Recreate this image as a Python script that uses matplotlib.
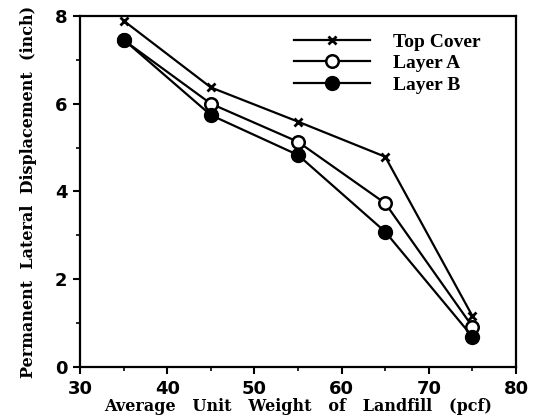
import matplotlib
matplotlib.use("Agg")
from matplotlib import pyplot as plt
from matplotlib.ticker import MultipleLocator

unit_weight = [35, 45, 55, 65, 75]
top_cover = [7.89, 6.37, 5.59, 4.79, 1.16]
layer_a = [7.45, 6.00, 5.13, 3.73, 0.92]
layer_b = [7.46, 5.74, 4.83, 3.08, 0.69]

plt.rcParams["font.family"] = ["Liberation Serif", "DejaVu Serif"]
plt.rcParams["font.weight"] = "bold"

fig = plt.figure(figsize=(5.37, 4.18), dpi=100)
ax = fig.add_axes([0.149, 0.122, 0.812, 0.84])

ax.plot(unit_weight, top_cover, color="black", lw=1.6, marker="x",
        markersize=6, markeredgewidth=2, label="Top Cover")
ax.plot(unit_weight, layer_a, color="black", lw=1.6, marker="o",
        markersize=9, markerfacecolor="white", markeredgewidth=1.8,
        label="Layer A")
ax.plot(unit_weight, layer_b, color="black", lw=1.6, marker="o",
        markersize=10, markerfacecolor="black", label="Layer B")

ax.set_xlim(30, 80)
ax.set_ylim(0, 8)
ax.xaxis.set_major_locator(MultipleLocator(10))
ax.xaxis.set_minor_locator(MultipleLocator(5))
ax.yaxis.set_major_locator(MultipleLocator(2))
ax.yaxis.set_minor_locator(MultipleLocator(1))
ax.tick_params(which="major", direction="out", length=5, width=1.5,
               labelsize=13, pad=4)
ax.tick_params(which="minor", direction="out", length=3, width=1.2)
for lbl in ax.get_xticklabels() + ax.get_yticklabels():
    lbl.set_fontfamily(["DejaVu Sans"])
    lbl.set_fontweight("bold")
for s in ax.spines.values():
    s.set_linewidth(1.6)

# wide serif face to mimic the letter-spaced labels of the original
label_font = dict(family=["DejaVu Serif"], fontsize=11.5, fontweight="bold")
ax.set_xlabel("Average   Unit   Weight   of   Landfill   (pcf)",
              labelpad=0, **label_font)
ax.set_ylabel("Permanent  Lateral  Displacement  (inch)",
              labelpad=13, **label_font)

leg = ax.legend(loc="upper right", bbox_to_anchor=(0.95, 0.99),
                frameon=False, fontsize=14, handlelength=3.9,
                labelspacing=0.2, handletextpad=1.2, borderaxespad=0.3)

fig.savefig("out.png", dpi=100)
